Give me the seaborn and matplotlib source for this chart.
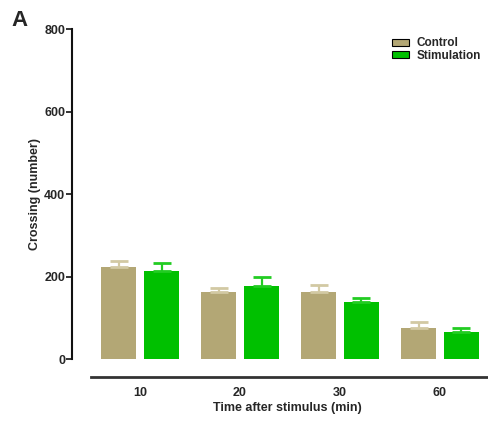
import matplotlib
matplotlib.use("Agg")
import matplotlib.pyplot as plt
import seaborn as sns
import pandas as pd
import numpy as np
from matplotlib.patches import Patch

sns.set_style("white")
plt.rcParams['font.family'] = ['Liberation Sans', 'DejaVu Sans']
plt.rcParams['font.weight'] = 'bold'

times = ["10", "20", "30", "60"]
groups = ["Control", "Stimulation"]
control_mean = [223, 162, 163, 77]
control_err = [15, 10, 18, 13]
stim_mean = [213, 177, 138, 66]
stim_err = [21, 23, 11, 9]

bar_colors = {"Control": "#B3A775", "Stimulation": "#00C000"}
err_colors = {"Control": "#D2C9A3", "Stimulation": "#22CC22"}

df = pd.DataFrame({
    "time": times * 2,
    "group": ["Control"] * 4 + ["Stimulation"] * 4,
    "value": control_mean + stim_mean,
    "err": control_err + stim_err,
})

fig = plt.figure(figsize=(4.89, 4.21), dpi=100)
ax = fig.add_axes([72 / 489, 1 - 359.3 / 421, 1 - 72 / 489, (359.3 - 29) / 421])

sns.barplot(data=df, x="time", y="value", hue="group", order=times,
            hue_order=groups, palette=bar_colors, width=0.86, gap=0.2,
            errorbar=None, ax=ax, legend=False, saturation=1, linewidth=0)

# error bars (upper only) from the data
for patch_group, g in zip([ax.patches[:4], ax.patches[4:8]], groups):
    sub = df[df.group == g]
    for p, m, e in zip(patch_group, sub["value"], sub["err"]):
        xc = p.get_x() + p.get_width() / 2
        ax.errorbar([xc], [m], yerr=[[0], [e]], fmt="none",
                    ecolor=err_colors[g], elinewidth=1.6, capsize=6.5,
                    capthick=2, zorder=3)

for s in ["top", "right"]:
    ax.spines[s].set_visible(False)
ax.spines["left"].set_linewidth(1.5)
ax.spines["left"].set_color("#111111")
ax.spines["bottom"].set_position(("outward", 13))
ax.spines["bottom"].set_bounds(-0.49, 3.49)
ax.spines["bottom"].set_linewidth(2)
ax.spines["bottom"].set_color("#333333")

ax.tick_params(axis="y", which="both", left=True, length=4, width=1.2,
               color="#111111", pad=1, labelsize=9)
ax.tick_params(axis="x", which="both", bottom=False, length=0, pad=7, labelsize=9)

ax.set_ylim(0, 800)
ax.set_xlim(-0.68, 3.49)
ax.set_yticks([0, 200, 400, 600, 800],
              labels=["0", "200", "400", "600", "800"], fontweight="bold")
ax.set_xticks(range(4), labels=times, fontweight="bold")

ax.set_xlabel("Time after stimulus (min)", fontweight="bold", fontsize=9)
ax.xaxis.set_label_coords(0.516, -0.128)
ax.set_ylabel("Crossing (number)", fontweight="bold", fontsize=9, labelpad=2)

handles = [Patch(facecolor=bar_colors[g], edgecolor="black", linewidth=0.8, label=g)
           for g in groups]
ax.legend(handles=handles, loc="upper left", bbox_to_anchor=(0.748, 1.0),
          frameon=False, prop={"weight": "bold", "size": 8.5},
          handlelength=1.45, handleheight=0.55, handletextpad=0.6,
          labelspacing=0.05, borderaxespad=0.3)

fig.text(11 / 489, 1 - 20 / 421, "A", fontsize=16, fontweight="bold",
         va="center", ha="left")

for lab in ax.get_xticklabels() + ax.get_yticklabels():
    lab.set_fontweight("bold")

fig.savefig("out.png", dpi=100)
